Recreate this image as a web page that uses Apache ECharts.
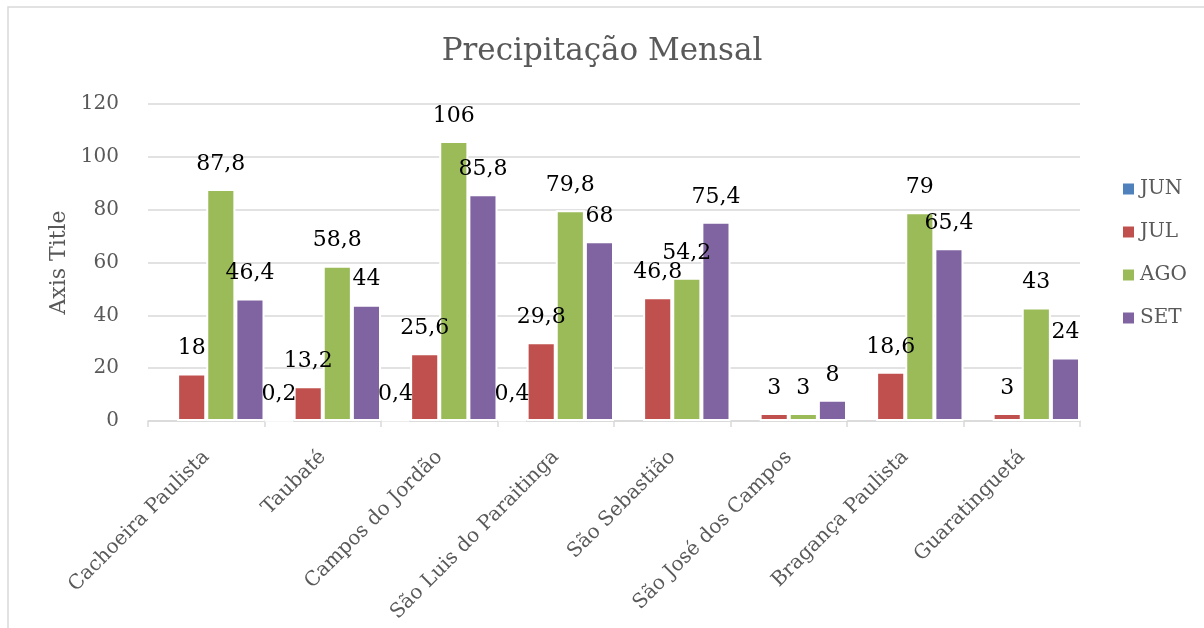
<!DOCTYPE html>
<html>
<head>
<meta charset="utf-8">
<script src="https://cdn.jsdelivr.net/npm/echarts@6/dist/echarts.min.js"></script>
<style>
  html, body { margin: 0; padding: 0; background: #fff; }
  #chart { width: 1204px; height: 628px; }
</style>
</head>
<body>
<div id="chart"></div>
<script>
const cities = [
    'Cachoeira Paulista',
    'Taubaté',
    'Campos do Jordão',
    'São Luis do Paraitinga',
    'São Sebastião',
    'São José dos Campos',
    'Bragança Paulista',
    'Guaratinguetá',
];
// empty cells have no label in the source
const jun = [null, 0.2, 0.4, 0.4, null, null, null, null];
const jul = [18, 13.2, 25.6, 29.8, 46.8, 3, 18.6, 3];
const ago = [87.8, 58.8, 106, 79.8, 54.2, 3, 79, 43];
const set = [46.4, 44, 85.8, 68, 75.4, 8, 65.4, 24];
const yTicks = [0, 20, 40, 60, 80, 100, 120];

const font = 'DejaVu Serif';
const grey = '#595959';
const line = '#d9d9d9';

function series(name, values, color) {
    return {
        name,
        type: 'bar',
        data: values,
        barGap: '0%',
        barCategoryGap: '0%',
        itemStyle: { color, borderColor: '#fff', borderWidth: 2 },
        label: {
            show: true,
            position: 'top',
            distance: 14,
            fontFamily: font,
            fontSize: 22,
            color: '#000',
            formatter: (p) => String(p.value).replace('.', ','),
        },
    };
}

const chart = echarts.init(document.getElementById('chart'));
chart.setOption({
    animation: false,
    title: {
        text: 'Precipitação Mensal',
        left: 'center',
        top: 31,
        textStyle: { fontFamily: font, fontSize: 31, fontWeight: 'normal', color: grey },
    },
    legend: {
        orient: 'vertical',
        left: 1116,
        top: 174,
        itemWidth: 13,
        itemHeight: 13,
        itemGap: 23,
        icon: 'rect',
        textStyle: { fontFamily: font, fontSize: 20, color: grey },
        data: ['JUN', 'JUL', 'AGO', 'SET'],
    },
    graphic: [{
        type: 'rect',
        shape: { x: 8, y: 7, width: 1300, height: 700 },
        style: { fill: 'none', stroke: line, lineWidth: 1.5 },
        silent: true,
    }],
    grid: { left: 148, right: 124, top: 104, bottom: 207 },
    xAxis: {
        type: 'category',
        data: cities,
        axisLine: { lineStyle: { color: line, width: 1.5 } },
        axisTick: { show: true, length: 6, lineStyle: { color: line, width: 1.5 } },
        axisLabel: {
            rotate: 45,
            interval: 0,
            margin: 33,
            fontFamily: font,
            fontSize: 20,
            color: grey,
        },
    },
    yAxis: {
        type: 'value',
        min: yTicks[0],
        max: yTicks[yTicks.length - 1],
        interval: 20,
        name: 'Axis Title',
        nameLocation: 'middle',
        nameGap: 78,
        nameRotate: 90,
        nameTextStyle: { fontFamily: font, fontSize: 22, color: grey },
        axisLine: { show: false },
        axisTick: { show: false },
        axisLabel: { margin: 29, fontFamily: font, fontSize: 20, color: grey },
        splitLine: { lineStyle: { color: line, width: 1.5 } },
    },
    series: [
        series('JUN', jun, '#4f81bd'),
        series('JUL', jul, '#c0504d'),
        series('AGO', ago, '#9bbb59'),
        series('SET', set, '#8064a2'),
    ],
});
</script>
</body>
</html>
